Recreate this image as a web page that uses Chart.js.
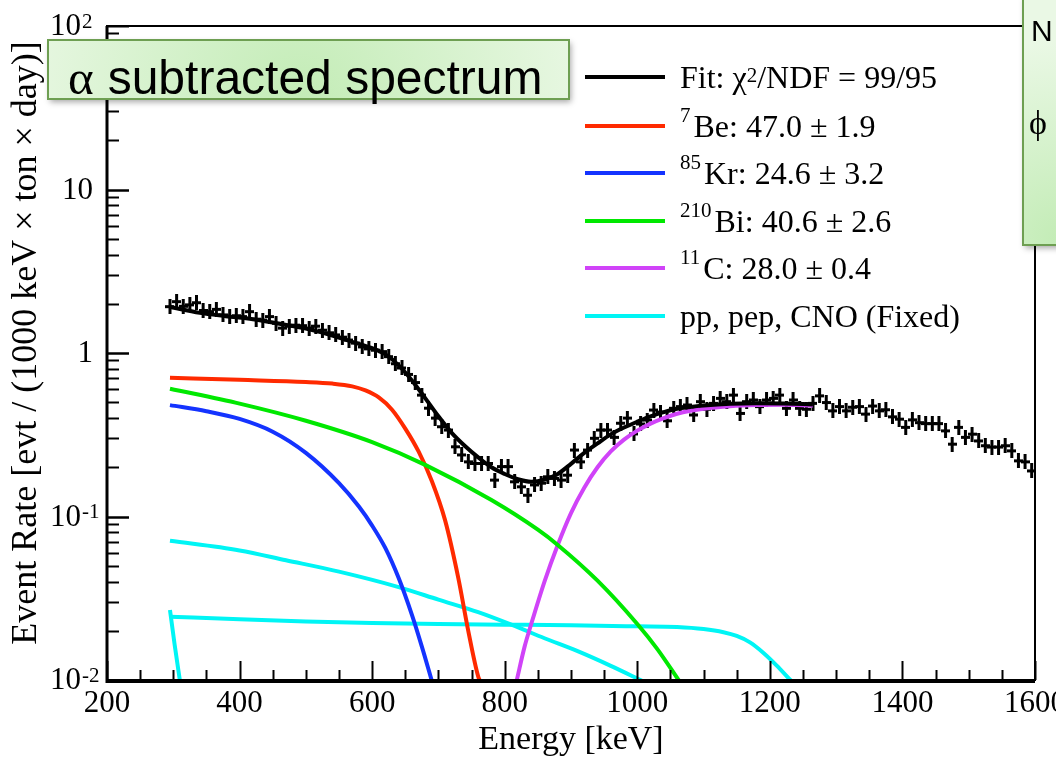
<!DOCTYPE html>
<html><head><meta charset="utf-8">
<script src="https://cdn.jsdelivr.net/npm/chart.js@4.4.1/dist/chart.umd.min.js"></script>
<style>html,body{margin:0;padding:0;background:#fff;}#wrap{width:1056px;height:757px;}canvas{display:block;}</style>
</head><body><div id="wrap"><canvas id="c" width="1056" height="757"></canvas></div>
<script>
// ---- data (energies in keV, rates in evt / (1000 keV x ton x day)) ----
const dataE = [295,305,315,325,335,345,355,365,375,385,395,405,415,425,435,445,455,465,475,485,495,505,515,525,535,545,555,565,575,585,595,605,615,625,635,645,655,665,675,685,695,705,715,725,735,745,755,765,775,785,795,805,815,825,835,845,855,865,875,885,895,905,915,925,935,945,955,965,975,985,995,1005,1015,1025,1035,1045,1055,1065,1075,1085,1095,1105,1115,1125,1135,1145,1155,1165,1175,1185,1195,1205,1215,1225,1235,1245,1255,1265,1275,1285,1295,1305,1315,1325,1335,1345,1355,1365,1375,1385,1395,1405,1415,1425,1435,1445,1455,1465,1475,1485,1495,1505,1515,1525,1535,1545,1555,1565,1575,1585,1595];
const dataV = [1.92,2.06,1.93,1.97,2.03,1.82,1.79,1.85,1.71,1.67,1.69,1.67,1.79,1.61,1.59,1.67,1.52,1.42,1.46,1.48,1.47,1.42,1.46,1.38,1.33,1.29,1.25,1.20,1.15,1.09,1.06,1.04,1.02,0.95,0.86,0.81,0.74,0.66,0.553,0.46,0.40,0.354,0.338,0.267,0.238,0.216,0.211,0.211,0.211,0.167,0.202,0.202,0.163,0.152,0.135,0.156,0.160,0.175,0.171,0.167,0.179,0.255,0.216,0.255,0.301,0.338,0.338,0.305,0.372,0.40,0.32,0.368,0.389,0.448,0.435,0.385,0.459,0.47,0.481,0.418,0.504,0.453,0.492,0.528,0.504,0.553,0.427,0.504,0.516,0.47,0.516,0.528,0.553,0.459,0.516,0.459,0.453,0.492,0.547,0.498,0.443,0.47,0.443,0.466,0.47,0.423,0.474,0.443,0.45,0.407,0.394,0.351,0.39,0.375,0.37,0.37,0.37,0.334,0.277,0.351,0.305,0.319,0.29,0.271,0.266,0.266,0.271,0.252,0.219,0.216,0.19];

const fitE = [295,340,380,420,460,500,540,570,600,620,640,660,680,700,720,740,760,780,800,820,840,860,880,900,920,940,960,980,1000,1020,1040,1060,1080,1100,1140,1180,1220,1265];
const fitV = [1.91,1.76,1.68,1.61,1.51,1.41,1.28,1.17,1.07,0.98,0.84,0.68,0.53,0.41,0.325,0.27,0.23,0.20,0.182,0.169,0.163,0.168,0.182,0.210,0.245,0.280,0.318,0.350,0.380,0.410,0.435,0.456,0.468,0.477,0.489,0.493,0.491,0.485];

const be7E = [295,400,500,540,570,590,610,630,650,670,690,710,730,745,760,763];
const be7V = [0.705,0.685,0.665,0.65,0.625,0.59,0.535,0.45,0.345,0.25,0.165,0.095,0.042,0.020,0.0105,0.0098];

const kr85E = [295,350,400,450,500,550,580,600,620,640,660,675,690];
const kr85V = [0.48,0.44,0.395,0.33,0.245,0.16,0.115,0.088,0.064,0.042,0.025,0.016,0.0099];

const bi210E = [295,400,500,600,680,780,850,880,940,1000,1030,1063];
const bi210V = [0.605,0.49,0.385,0.285,0.207,0.126,0.083,0.067,0.0405,0.022,0.0155,0.0099];

const c11E = [818,830,840,860,880,900,920,940,960,980,1000,1020,1040,1060,1080,1100,1140,1180,1220,1265];
const c11V = [0.0099,0.016,0.022,0.040,0.067,0.105,0.150,0.200,0.250,0.295,0.335,0.37,0.40,0.425,0.443,0.456,0.472,0.480,0.482,0.478];

const cnoE = [295,400,470,550,640,700,760,810,860,910,960,1007];
const cnoV = [0.071,0.062,0.054,0.046,0.037,0.031,0.026,0.0218,0.018,0.0150,0.0122,0.0099];

const pepE = [295,400,500,600,700,800,900,1000,1060,1100,1130,1150,1170,1190,1210,1232];
const pepV = [0.0244,0.0235,0.0228,0.0223,0.022,0.0218,0.0216,0.0213,0.0211,0.0205,0.0196,0.0186,0.0170,0.0147,0.0123,0.0099];

const ppE = [295,302,310];
const ppV = [0.0268,0.0165,0.0099];

const xTickLabels = ['200','400','600','800','1000','1200','1400','1600'];
const yTickVals = [100,10,1,0.1,0.01];
const yTickBase = ['10','10','1','10','10'];
const yTickExp  = ['2','','','-1','-2'];

const COL = {fit:'#000000', be:'#ff2a00', kr:'#1433ff', bi:'#00e800', c:'#d043f8', cy:'#00f5f5'};

const legendRows = [
  {color: COL.fit, parts: [['Fit: χ',0],['2',1],['/NDF = 99/95',0]]},
  {color: COL.be,  parts: [['7',2],['Be: 47.0 ± 1.9',0]]},
  {color: COL.kr,  parts: [['85',2],['Kr: 24.6 ± 3.2',0]]},
  {color: COL.bi,  parts: [['210',2],['Bi: 40.6 ± 2.6',0]]},
  {color: COL.c,   parts: [['11',2],['C: 28.0 ± 0.4',0]]},
  {color: COL.cy,  parts: [['pp, pep, CNO (Fixed)',0]]}
];

// ---- helpers ----
const pts = (E, V) => E.map((e, i) => ({x: e, y: V[i]}));
function crossImg() {
  const c = document.createElement('canvas'); c.width = 9; c.height = 15;
  const g = c.getContext('2d'); g.fillStyle = '#000';
  g.fillRect(0, 6, 9, 3); g.fillRect(3, 0, 3, 15);
  return c;
}
const curve = (label, E, V, color, order, w) => ({
  label, data: pts(E, V), borderColor: color, backgroundColor: color, borderWidth: w || 4,
  pointRadius: 0, cubicInterpolationMode: 'monotone', fill: false, order
});

const SERIF = '"Liberation Serif", "Times New Roman", serif';
const SANS = '"Liberation Sans", Arial, sans-serif';

function greenBox(ctx, x, y, w, h, cx, cy, r) {
  ctx.save();
  ctx.shadowColor = 'rgba(0,0,0,0.35)'; ctx.shadowBlur = 6; ctx.shadowOffsetX = 2; ctx.shadowOffsetY = 3;
  const g = ctx.createRadialGradient(cx, cy, 0, cx, cy, r);
  g.addColorStop(0, '#c3ecb6'); g.addColorStop(1, '#eaf8e5');
  ctx.fillStyle = g; ctx.fillRect(x, y, w, h);
  ctx.shadowColor = 'transparent';
  ctx.strokeStyle = '#6e9f52'; ctx.lineWidth = 2; ctx.strokeRect(x, y, w, h);
  ctx.restore();
}

const decor = {
  id: 'decor',
  afterDatasetsDraw(chart) {
    const {ctx, chartArea: a, scales: {x, y}} = chart;
    ctx.save();
    ctx.strokeStyle = '#000'; ctx.fillStyle = '#000';
    // x ticks (inward)
    ctx.lineWidth = 2;
    for (let v = 200; v <= 1600; v += 50) {
      const px = Math.round(x.getPixelForValue(v)) + 0.5;
      const len = (v % 200 === 0) ? 19 : 10;
      ctx.beginPath(); ctx.moveTo(px, a.bottom); ctx.lineTo(px, a.bottom - len); ctx.stroke();
    }
    // y ticks (inward)
    for (const d of [0.01, 0.1, 1, 10]) {
      for (let m = 1; m <= 10; m++) {
        const py = Math.round(y.getPixelForValue(d * m)) + 0.5;
        const len = (m === 1 || m === 10) ? 22 : 12;
        ctx.beginPath(); ctx.moveTo(a.left, py); ctx.lineTo(a.left + len, py); ctx.stroke();
      }
    }
    // frame
    ctx.lineWidth = 2;
    ctx.strokeRect(a.left, a.top, a.right - a.left, a.bottom - a.top);
    ctx.lineWidth = 3;
    ctx.beginPath(); ctx.moveTo(a.left, a.top); ctx.lineTo(a.left, a.bottom + 1.5); ctx.lineTo(a.right, a.bottom + 1.5); ctx.stroke();

    // y tick labels with superscripts
    for (let i = 0; i < yTickVals.length; i++) {
      const py = y.getPixelForValue(yTickVals[i]);
      ctx.font = '31px ' + SERIF; ctx.textBaseline = 'middle';
      if (yTickExp[i] === '') {
        ctx.textAlign = 'right'; ctx.fillText(yTickBase[i], 93, py + 1);
      } else {
        ctx.textAlign = 'right'; ctx.fillText(yTickBase[i], 81, py + 1);
        ctx.font = '21px ' + SERIF; ctx.textAlign = 'left'; ctx.textBaseline = 'alphabetic';
        ctx.fillText(yTickExp[i], 82, py + 1.5);
      }
    }
    // y title
    ctx.save();
    ctx.translate(36, 343); ctx.rotate(-Math.PI / 2);
    ctx.font = '36px ' + SERIF; ctx.textAlign = 'center'; ctx.textBaseline = 'alphabetic';
    ctx.fillText('Event Rate [evt / (1000 keV × ton × day)]', 0, 0);
    ctx.restore();

    // legend
    const rowY = [77, 126, 173, 221, 268, 316];
    legendRows.forEach((r, i) => {
      const yy = rowY[i];
      ctx.strokeStyle = r.color; ctx.lineWidth = 4;
      ctx.beginPath(); ctx.moveTo(585, yy); ctx.lineTo(665, yy); ctx.stroke();
      let tx = 680; const base = yy + 11;
      ctx.textAlign = 'left'; ctx.textBaseline = 'alphabetic'; ctx.fillStyle = '#000';
      for (const [t, s] of r.parts) {
        if (s === 0) { ctx.font = '32px ' + SERIF; ctx.fillText(t, tx, base); }
        else if (s === 1) { ctx.font = '21px ' + SERIF; ctx.fillText(t, tx, base - 6); }
        else { ctx.font = '21px ' + SERIF; ctx.fillText(t, tx, base - 15); }
        tx += ctx.measureText(t).width + (s === 2 ? 3 : 0);
      }
    });
    ctx.restore();
  },
  afterDraw(chart) {
    const ctx = chart.ctx;
    // left annotation box
    greenBox(ctx, 48, 40, 521, 59, 300, 99, 300);
    ctx.save();
    ctx.fillStyle = '#000'; ctx.textBaseline = 'alphabetic'; ctx.textAlign = 'left';
    ctx.font = '49px ' + SERIF; ctx.fillText('α', 68, 94);
    const aw = ctx.measureText('α').width;
    ctx.font = '48px ' + SANS; ctx.fillText('subtracted spectrum', 68 + aw + 14, 94);
    ctx.restore();
    // right (cut-off) box
    greenBox(ctx, 1023, -4, 60, 249, 1060, 240, 200);
    ctx.save();
    ctx.fillStyle = '#000'; ctx.textAlign = 'left'; ctx.textBaseline = 'alphabetic';
    ctx.font = '30px ' + SANS; ctx.fillText('N', 1031, 41);
    ctx.font = '34px ' + SERIF; ctx.fillText('ϕ', 1029, 134);
    ctx.restore();
  }
};

new Chart(document.getElementById('c'), {
  type: 'line',
  data: {
    datasets: [
      curve('Fit', fitE, fitV, COL.fit, 0, 4),
      {label: 'Data', data: pts(dataE, dataV), showLine: false, pointStyle: crossImg(), pointRadius: 4, order: 7},
      curve('7Be', be7E, be7V, COL.be, 2),
      curve('85Kr', kr85E, kr85V, COL.kr, 3),
      curve('210Bi', bi210E, bi210V, COL.bi, 1),
      curve('11C', c11E, c11V, COL.c, 4),
      curve('CNO', cnoE, cnoV, COL.cy, 5),
      curve('pep', pepE, pepV, COL.cy, 5),
      curve('pp', ppE, ppV, COL.cy, 5)
    ]
  },
  options: {
    responsive: false, animation: false, devicePixelRatio: 1,
    layout: {padding: {top: 26, right: 21, left: 0, bottom: 0}},
    plugins: {legend: {display: false}, tooltip: {enabled: false}, title: {display: false}},
    scales: {
      x: {
        type: 'linear', min: 200, max: 1600, position: 'bottom',
        grid: {display: false, drawTicks: false}, border: {display: false},
        ticks: {stepSize: 200, autoSkip: false, maxRotation: 0, padding: 5, color: '#000',
                font: {family: SERIF, size: 31},
                callback: (v) => xTickLabels[Math.round((v - 200) / 200)] ?? ''},
        title: {display: true, text: 'Energy [keV]', color: '#000', font: {family: SERIF, size: 34, lineHeight: 1}, padding: {top: 0, bottom: 0}},
        afterFit: (s) => { s.height = 77; s.paddingLeft = 0; s.paddingRight = 0; }
      },
      y: {
        type: 'logarithmic', min: 0.01, max: 100, position: 'left',
        grid: {display: false, drawTicks: false}, border: {display: false},
        ticks: {display: false},
        afterFit: (s) => { s.width = 107; s.paddingTop = 0; s.paddingBottom = 0; }
      }
    }
  },
  plugins: [decor]
});
</script></body></html>
